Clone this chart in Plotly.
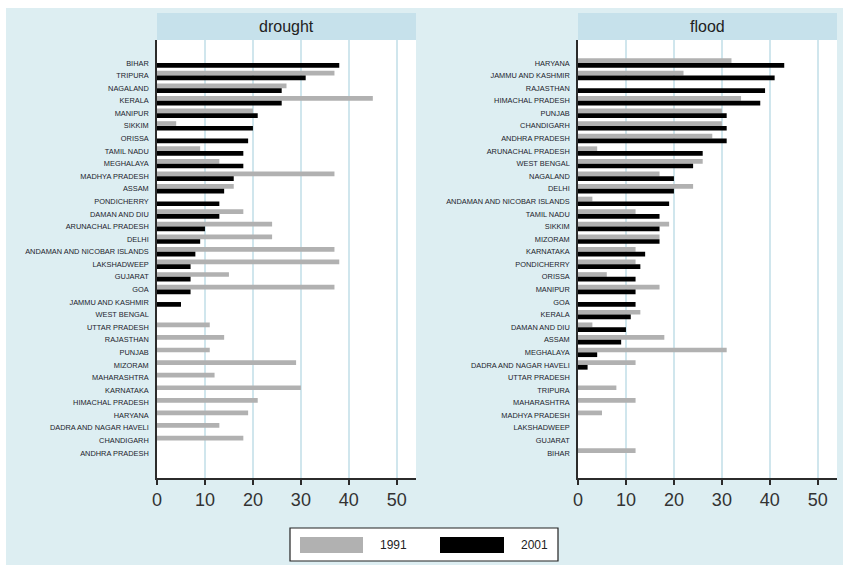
import plotly.graph_objects as go
from plotly.subplots import make_subplots

# ---------------- data ----------------
drought_states = ["BIHAR", "TRIPURA", "NAGALAND", "KERALA", "MANIPUR", "SIKKIM", "ORISSA",
                  "TAMIL NADU", "MEGHALAYA", "MADHYA PRADESH", "ASSAM", "PONDICHERRY",
                  "DAMAN AND DIU", "ARUNACHAL PRADESH", "DELHI", "ANDAMAN AND NICOBAR ISLANDS",
                  "LAKSHADWEEP", "GUJARAT", "GOA", "JAMMU AND KASHMIR", "WEST BENGAL",
                  "UTTAR PRADESH", "RAJASTHAN", "PUNJAB", "MIZORAM", "MAHARASHTRA", "KARNATAKA",
                  "HIMACHAL PRADESH", "HARYANA", "DADRA AND NAGAR HAVELI", "CHANDIGARH",
                  "ANDHRA PRADESH"]
drought_1991 = [0, 37, 27, 45, 20, 4, 0, 9, 13, 37, 16, 0,
                18, 24, 24, 37, 38, 15, 37, 0, 0,
                11, 14, 11, 29, 12, 30, 21, 19, 13, 18, 0]
drought_2001 = [38, 31, 26, 26, 21, 20, 19, 18, 18, 16, 14, 13,
                13, 10, 9, 8, 7, 7, 7, 5, 0,
                0, 0, 0, 0, 0, 0, 0, 0, 0, 0, 0]

flood_states = ["HARYANA", "JAMMU AND KASHMIR", "RAJASTHAN", "HIMACHAL PRADESH", "PUNJAB",
                "CHANDIGARH", "ANDHRA PRADESH", "ARUNACHAL PRADESH", "WEST BENGAL", "NAGALAND",
                "DELHI", "ANDAMAN AND NICOBAR ISLANDS", "TAMIL NADU", "SIKKIM", "MIZORAM",
                "KARNATAKA", "PONDICHERRY", "ORISSA", "MANIPUR", "GOA", "KERALA",
                "DAMAN AND DIU", "ASSAM", "MEGHALAYA", "DADRA AND NAGAR HAVELI",
                "UTTAR PRADESH", "TRIPURA", "MAHARASHTRA", "MADHYA PRADESH", "LAKSHADWEEP",
                "GUJARAT", "BIHAR"]
flood_1991 = [32, 22, 0, 34, 30, 30, 28, 4, 26, 17, 24, 3, 12, 19, 17,
              12, 12, 6, 17, 0, 13, 3, 18, 31, 12, 0, 8, 12, 5, 0, 0, 12]
flood_2001 = [43, 41, 39, 38, 31, 31, 31, 26, 24, 20, 20, 19, 17, 17, 17,
              14, 13, 12, 12, 12, 11, 10, 9, 4, 2, 0, 0, 0, 0, 0, 0, 0]

panel_titles = ["drought", "flood"]
years = ["1991", "2001"]
x_ticks = [0, 10, 20, 30, 40, 50]

# ---------------- style ----------------
W, H = 843, 565
ML, MR, MT, MB = 157, 6, 40, 87
PW = W - ML - MR
PH = H - MT - MB
BG = "#ddeef2"
STRIP = "#c6e1eb"
GRID = "#d0e6ed"
GRAY = "#b1b1b1"
BLACK = "#000000"
AXIS = "#2b2b2b"


def px_x(p):
    return (p - ML) / PW


def px_y(p):
    return (H - MB - p) / PH


left_dom = [0, px_x(416)]
right_dom = [px_x(578), 1]

fig = make_subplots(rows=1, cols=2, horizontal_spacing=0.0)

panels = [(drought_states, drought_1991, drought_2001),
          (flood_states, flood_1991, flood_2001)]
for i, (states, v91, v01) in enumerate(panels):
    col = i + 1
    fig.add_trace(go.Bar(y=states, x=v91, orientation="h", name=years[0],
                         marker=dict(color=GRAY, line=dict(width=0)),
                         showlegend=False), row=1, col=col)
    fig.add_trace(go.Bar(y=states, x=v01, orientation="h", name=years[1],
                         marker=dict(color=BLACK, line=dict(width=0)),
                         showlegend=False), row=1, col=col)

n = len(drought_states)
pitch = 390 / (n - 1)
y_range = [n - 1 + 25 / pitch, -23 / pitch]

for i, dom in enumerate([left_dom, right_dom]):
    col = i + 1
    states = panels[i][0]
    fig.update_xaxes(domain=dom, range=[0, 54], tickvals=x_ticks,
                     ticktext=[str(t) for t in x_ticks],
                     showgrid=True, gridcolor=GRID, gridwidth=1.5,
                     zeroline=False, showline=True, linecolor=AXIS, linewidth=1.5,
                     ticks="outside", ticklen=5, tickwidth=1.5, tickcolor=AXIS,
                     tickfont=dict(family="Liberation Sans, Arial", size=18, color="#333333"),
                     fixedrange=True, row=1, col=col)
    fig.update_yaxes(type="category", categoryorder="array", categoryarray=states,
                     range=y_range, showgrid=False, zeroline=False,
                     showline=True, linecolor=AXIS, linewidth=1.5, ticks="",
                     ticklabelstandoff=5,
                     tickfont=dict(family="Liberation Sans, Arial", size=7.4, color="#1c1c2c"),
                     row=1, col=col)

shapes = []
annotations = []
# white border around the outer panel
shapes.append(dict(type="rect", xref="paper", yref="paper", x0=px_x(0), x1=px_x(6),
                   y0=px_y(H), y1=px_y(0), fillcolor="white", line=dict(width=0), layer="below"))
shapes.append(dict(type="rect", xref="paper", yref="paper", x0=px_x(0), x1=px_x(W),
                   y0=px_y(8), y1=px_y(0), fillcolor="white", line=dict(width=0), layer="below"))
# strip headers
for title, dom in zip(panel_titles, [left_dom, right_dom]):
    shapes.append(dict(type="rect", xref="paper", yref="paper", x0=dom[0], x1=dom[1],
                       y0=1.0, y1=px_y(13), fillcolor=STRIP, line=dict(width=0)))
    annotations.append(dict(text=title, xref="paper", yref="paper",
                            x=(dom[0] + dom[1]) / 2, y=(1.0 + px_y(13)) / 2,
                            xanchor="center", yanchor="middle", showarrow=False,
                            font=dict(family="Liberation Sans, Arial", size=16, color="#222222")))

# custom legend
shapes.append(dict(type="rect", xref="paper", yref="paper", x0=px_x(290), x1=px_x(558),
                   y0=px_y(561), y1=px_y(528), fillcolor="white",
                   line=dict(color="#222222", width=1.2)))
shapes.append(dict(type="rect", xref="paper", yref="paper", x0=px_x(300), x1=px_x(363),
                   y0=px_y(553), y1=px_y(537), fillcolor=GRAY, line=dict(width=0)))
shapes.append(dict(type="rect", xref="paper", yref="paper", x0=px_x(440), x1=px_x(504),
                   y0=px_y(553), y1=px_y(537), fillcolor=BLACK, line=dict(width=0)))
for label, cx in zip(years, [393, 534]):
    annotations.append(dict(text=label, xref="paper", yref="paper", x=px_x(cx), y=px_y(545),
                            xanchor="center", yanchor="middle", showarrow=False,
                            font=dict(family="Liberation Sans, Arial", size=12, color="#222222")))

fig.update_layout(width=W, height=H, margin=dict(l=ML, r=MR, t=MT, b=MB),
                  paper_bgcolor=BG, plot_bgcolor="white",
                  barmode="group", bargap=0.25, bargroupgap=0.0,
                  shapes=shapes, annotations=annotations, showlegend=False)

fig.write_html("out.html")
